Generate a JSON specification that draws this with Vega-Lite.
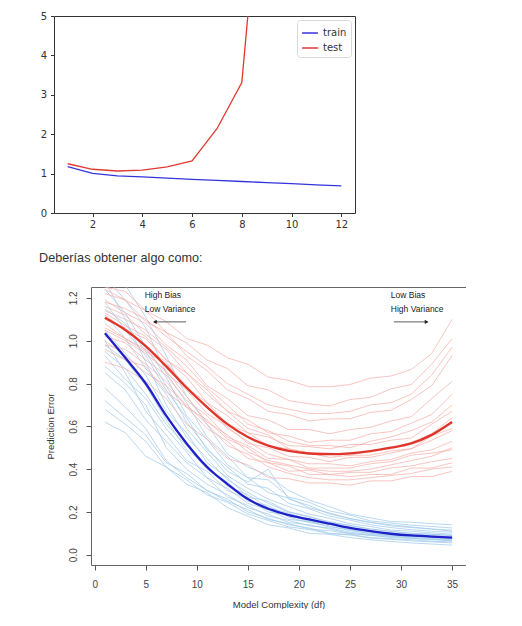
{
"$schema":"https://vega.github.io/schema/vega-lite/v6.json",
"padding":{"left":38,"top":10,"right":0,"bottom":0},
"background":"white",
"config":{"view":{"stroke":null},"font":"Liberation Sans"},
"datasets":{
"top":[
{"s":"train","x":1,"y":1.175},{"s":"train","x":2,"y":1.005},{"s":"train","x":3,"y":0.94},{"s":"train","x":4,"y":0.915},{"s":"train","x":5,"y":0.885},{"s":"train","x":6,"y":0.855},{"s":"train","x":7,"y":0.83},{"s":"train","x":8,"y":0.80},{"s":"train","x":9,"y":0.772},{"s":"train","x":10,"y":0.745},{"s":"train","x":11,"y":0.715},{"s":"train","x":12,"y":0.69},
{"s":"test","x":1,"y":1.25},{"s":"test","x":2,"y":1.11},{"s":"test","x":3,"y":1.066},{"s":"test","x":4,"y":1.09},{"s":"test","x":5,"y":1.17},{"s":"test","x":6,"y":1.32},{"s":"test","x":7,"y":2.14},{"s":"test","x":8,"y":3.31},{"s":"test","x":9,"y":10.3}
],
"curves":[
{"c":"b01","x":1,"y":0.62},{"c":"b01","x":3,"y":0.57},{"c":"b01","x":5,"y":0.46},{"c":"b01","x":7,"y":0.41},{"c":"b01","x":9,"y":0.33},{"c":"b01","x":11,"y":0.29},{"c":"b01","x":13,"y":0.22},{"c":"b01","x":15,"y":0.18},{"c":"b01","x":17,"y":0.14},{"c":"b01","x":19,"y":0.125},{"c":"b01","x":21,"y":0.10},{"c":"b01","x":23,"y":0.095},{"c":"b01","x":25,"y":0.08},{"c":"b01","x":27,"y":0.07},{"c":"b01","x":29,"y":0.062},{"c":"b01","x":31,"y":0.055},{"c":"b01","x":33,"y":0.05},{"c":"b01","x":35,"y":0.045},
{"c":"b02","x":1,"y":0.72},{"c":"b02","x":3,"y":0.64},{"c":"b02","x":5,"y":0.56},{"c":"b02","x":7,"y":0.43},{"c":"b02","x":9,"y":0.38},{"c":"b02","x":11,"y":0.30},{"c":"b02","x":13,"y":0.26},{"c":"b02","x":15,"y":0.20},{"c":"b02","x":17,"y":0.17},{"c":"b02","x":19,"y":0.14},{"c":"b02","x":21,"y":0.125},{"c":"b02","x":23,"y":0.10},{"c":"b02","x":25,"y":0.095},{"c":"b02","x":27,"y":0.08},{"c":"b02","x":29,"y":0.075},{"c":"b02","x":31,"y":0.07},{"c":"b02","x":33,"y":0.063},{"c":"b02","x":35,"y":0.06},
{"c":"b03","x":1,"y":0.85},{"c":"b03","x":3,"y":0.77},{"c":"b03","x":5,"y":0.63},{"c":"b03","x":7,"y":0.53},{"c":"b03","x":9,"y":0.43},{"c":"b03","x":11,"y":0.36},{"c":"b03","x":13,"y":0.27},{"c":"b03","x":15,"y":0.23},{"c":"b03","x":17,"y":0.18},{"c":"b03","x":19,"y":0.16},{"c":"b03","x":21,"y":0.135},{"c":"b03","x":23,"y":0.125},{"c":"b03","x":25,"y":0.105},{"c":"b03","x":27,"y":0.095},{"c":"b03","x":29,"y":0.088},{"c":"b03","x":31,"y":0.08},{"c":"b03","x":33,"y":0.076},{"c":"b03","x":35,"y":0.07},
{"c":"b04","x":1,"y":0.93},{"c":"b04","x":3,"y":0.82},{"c":"b04","x":5,"y":0.73},{"c":"b04","x":7,"y":0.59},{"c":"b04","x":9,"y":0.48},{"c":"b04","x":11,"y":0.36},{"c":"b04","x":13,"y":0.31},{"c":"b04","x":15,"y":0.24},{"c":"b04","x":17,"y":0.21},{"c":"b04","x":19,"y":0.165},{"c":"b04","x":21,"y":0.155},{"c":"b04","x":23,"y":0.13},{"c":"b04","x":25,"y":0.117},{"c":"b04","x":27,"y":0.10},{"c":"b04","x":29,"y":0.092},{"c":"b04","x":31,"y":0.085},{"c":"b04","x":33,"y":0.08},{"c":"b04","x":35,"y":0.076},
{"c":"b05","x":1,"y":0.98},{"c":"b05","x":3,"y":0.91},{"c":"b05","x":5,"y":0.79},{"c":"b05","x":7,"y":0.63},{"c":"b05","x":9,"y":0.49},{"c":"b05","x":11,"y":0.42},{"c":"b05","x":13,"y":0.32},{"c":"b05","x":15,"y":0.28},{"c":"b05","x":17,"y":0.22},{"c":"b05","x":19,"y":0.195},{"c":"b05","x":21,"y":0.16},{"c":"b05","x":23,"y":0.145},{"c":"b05","x":25,"y":0.123},{"c":"b05","x":27,"y":0.112},{"c":"b05","x":29,"y":0.10},{"c":"b05","x":31,"y":0.095},{"c":"b05","x":33,"y":0.09},{"c":"b05","x":35,"y":0.085},
{"c":"b06","x":1,"y":1.05},{"c":"b06","x":3,"y":0.94},{"c":"b06","x":5,"y":0.84},{"c":"b06","x":7,"y":0.67},{"c":"b06","x":9,"y":0.57},{"c":"b06","x":11,"y":0.43},{"c":"b06","x":13,"y":0.36},{"c":"b06","x":15,"y":0.27},{"c":"b06","x":17,"y":0.25},{"c":"b06","x":19,"y":0.20},{"c":"b06","x":21,"y":0.18},{"c":"b06","x":23,"y":0.15},{"c":"b06","x":25,"y":0.138},{"c":"b06","x":27,"y":0.12},{"c":"b06","x":29,"y":0.108},{"c":"b06","x":31,"y":0.10},{"c":"b06","x":33,"y":0.096},{"c":"b06","x":35,"y":0.09},
{"c":"b07","x":1,"y":1.12},{"c":"b07","x":3,"y":1.01},{"c":"b07","x":5,"y":0.87},{"c":"b07","x":7,"y":0.75},{"c":"b07","x":9,"y":0.59},{"c":"b07","x":11,"y":0.48},{"c":"b07","x":13,"y":0.37},{"c":"b07","x":15,"y":0.31},{"c":"b07","x":17,"y":0.26},{"c":"b07","x":19,"y":0.225},{"c":"b07","x":21,"y":0.19},{"c":"b07","x":23,"y":0.17},{"c":"b07","x":25,"y":0.145},{"c":"b07","x":27,"y":0.132},{"c":"b07","x":29,"y":0.115},{"c":"b07","x":31,"y":0.11},{"c":"b07","x":33,"y":0.102},{"c":"b07","x":35,"y":0.096},
{"c":"b08","x":1,"y":1.18},{"c":"b08","x":3,"y":1.05},{"c":"b08","x":5,"y":0.93},{"c":"b08","x":7,"y":0.77},{"c":"b08","x":9,"y":0.64},{"c":"b08","x":11,"y":0.49},{"c":"b08","x":13,"y":0.41},{"c":"b08","x":15,"y":0.33},{"c":"b08","x":17,"y":0.31},{"c":"b08","x":19,"y":0.24},{"c":"b08","x":21,"y":0.215},{"c":"b08","x":23,"y":0.18},{"c":"b08","x":25,"y":0.162},{"c":"b08","x":27,"y":0.14},{"c":"b08","x":29,"y":0.127},{"c":"b08","x":31,"y":0.117},{"c":"b08","x":33,"y":0.11},{"c":"b08","x":35,"y":0.105},
{"c":"b09","x":1,"y":1.24},{"c":"b09","x":3,"y":1.13},{"c":"b09","x":5,"y":0.97},{"c":"b09","x":7,"y":0.83},{"c":"b09","x":9,"y":0.65},{"c":"b09","x":11,"y":0.54},{"c":"b09","x":13,"y":0.42},{"c":"b09","x":15,"y":0.36},{"c":"b09","x":17,"y":0.29},{"c":"b09","x":19,"y":0.265},{"c":"b09","x":21,"y":0.22},{"c":"b09","x":23,"y":0.195},{"c":"b09","x":25,"y":0.168},{"c":"b09","x":27,"y":0.152},{"c":"b09","x":29,"y":0.135},{"c":"b09","x":31,"y":0.127},{"c":"b09","x":33,"y":0.12},{"c":"b09","x":35,"y":0.115},
{"c":"b10","x":1,"y":1.30},{"c":"b10","x":3,"y":1.19},{"c":"b10","x":5,"y":1.06},{"c":"b10","x":7,"y":0.85},{"c":"b10","x":9,"y":0.71},{"c":"b10","x":11,"y":0.55},{"c":"b10","x":13,"y":0.46},{"c":"b10","x":15,"y":0.36},{"c":"b10","x":17,"y":0.35},{"c":"b10","x":19,"y":0.27},{"c":"b10","x":21,"y":0.245},{"c":"b10","x":23,"y":0.205},{"c":"b10","x":25,"y":0.185},{"c":"b10","x":27,"y":0.158},{"c":"b10","x":29,"y":0.148},{"c":"b10","x":31,"y":0.138},{"c":"b10","x":33,"y":0.132},{"c":"b10","x":35,"y":0.125},
{"c":"b11","x":1,"y":1.36},{"c":"b11","x":3,"y":1.26},{"c":"b11","x":5,"y":1.11},{"c":"b11","x":7,"y":0.93},{"c":"b11","x":9,"y":0.74},{"c":"b11","x":11,"y":0.61},{"c":"b11","x":13,"y":0.47},{"c":"b11","x":15,"y":0.41},{"c":"b11","x":17,"y":0.37},{"c":"b11","x":19,"y":0.30},{"c":"b11","x":21,"y":0.255},{"c":"b11","x":23,"y":0.225},{"c":"b11","x":25,"y":0.19},{"c":"b11","x":27,"y":0.172},{"c":"b11","x":29,"y":0.155},{"c":"b11","x":31,"y":0.152},{"c":"b11","x":33,"y":0.145},{"c":"b11","x":35,"y":0.14},
{"c":"b12","x":1,"y":0.78},{"c":"b12","x":3,"y":0.69},{"c":"b12","x":5,"y":0.59},{"c":"b12","x":7,"y":0.44},{"c":"b12","x":9,"y":0.36},{"c":"b12","x":11,"y":0.30},{"c":"b12","x":13,"y":0.25},{"c":"b12","x":15,"y":0.21},{"c":"b12","x":17,"y":0.165},{"c":"b12","x":19,"y":0.145},{"c":"b12","x":21,"y":0.12},{"c":"b12","x":23,"y":0.112},{"c":"b12","x":25,"y":0.098},{"c":"b12","x":27,"y":0.092},{"c":"b12","x":29,"y":0.08},{"c":"b12","x":31,"y":0.076},{"c":"b12","x":33,"y":0.07},{"c":"b12","x":35,"y":0.065},
{"c":"b13","x":1,"y":1.00},{"c":"b13","x":3,"y":0.85},{"c":"b13","x":5,"y":0.67},{"c":"b13","x":7,"y":0.56},{"c":"b13","x":9,"y":0.44},{"c":"b13","x":11,"y":0.39},{"c":"b13","x":13,"y":0.30},{"c":"b13","x":15,"y":0.26},{"c":"b13","x":17,"y":0.20},{"c":"b13","x":19,"y":0.185},{"c":"b13","x":21,"y":0.155},{"c":"b13","x":23,"y":0.142},{"c":"b13","x":25,"y":0.118},{"c":"b13","x":27,"y":0.107},{"c":"b13","x":29,"y":0.094},{"c":"b13","x":31,"y":0.092},{"c":"b13","x":33,"y":0.085},{"c":"b13","x":35,"y":0.08},
{"c":"b14","x":1,"y":0.68},{"c":"b14","x":3,"y":0.61},{"c":"b14","x":5,"y":0.53},{"c":"b14","x":7,"y":0.41},{"c":"b14","x":9,"y":0.35},{"c":"b14","x":11,"y":0.28},{"c":"b14","x":13,"y":0.245},{"c":"b14","x":15,"y":0.19},{"c":"b14","x":17,"y":0.16},{"c":"b14","x":19,"y":0.13},{"c":"b14","x":21,"y":0.118},{"c":"b14","x":23,"y":0.098},{"c":"b14","x":25,"y":0.092},{"c":"b14","x":27,"y":0.078},{"c":"b14","x":29,"y":0.072},{"c":"b14","x":31,"y":0.065},{"c":"b14","x":33,"y":0.06},{"c":"b14","x":35,"y":0.055},
{"c":"b15","x":1,"y":1.28},{"c":"b15","x":3,"y":1.10},{"c":"b15","x":5,"y":0.90},{"c":"b15","x":7,"y":0.70},{"c":"b15","x":9,"y":0.55},{"c":"b15","x":11,"y":0.45},{"c":"b15","x":13,"y":0.35},{"c":"b15","x":15,"y":0.29},{"c":"b15","x":17,"y":0.24},{"c":"b15","x":19,"y":0.20},{"c":"b15","x":21,"y":0.175},{"c":"b15","x":23,"y":0.155},{"c":"b15","x":25,"y":0.135},{"c":"b15","x":27,"y":0.12},{"c":"b15","x":29,"y":0.11},{"c":"b15","x":31,"y":0.10},{"c":"b15","x":33,"y":0.095},{"c":"b15","x":35,"y":0.09},
{"c":"b16","x":1,"y":0.88},{"c":"b16","x":3,"y":0.80},{"c":"b16","x":5,"y":0.70},{"c":"b16","x":7,"y":0.50},{"c":"b16","x":9,"y":0.40},{"c":"b16","x":11,"y":0.33},{"c":"b16","x":13,"y":0.28},{"c":"b16","x":15,"y":0.22},{"c":"b16","x":17,"y":0.19},{"c":"b16","x":19,"y":0.15},{"c":"b16","x":21,"y":0.14},{"c":"b16","x":23,"y":0.12},{"c":"b16","x":25,"y":0.10},{"c":"b16","x":27,"y":0.09},{"c":"b16","x":29,"y":0.085},{"c":"b16","x":31,"y":0.078},{"c":"b16","x":33,"y":0.072},{"c":"b16","x":35,"y":0.068},
{"c":"b17","x":1,"y":1.15},{"c":"b17","x":3,"y":1.08},{"c":"b17","x":5,"y":0.95},{"c":"b17","x":7,"y":0.79},{"c":"b17","x":9,"y":0.62},{"c":"b17","x":11,"y":0.50},{"c":"b17","x":13,"y":0.39},{"c":"b17","x":15,"y":0.34},{"c":"b17","x":17,"y":0.40},{"c":"b17","x":19,"y":0.26},{"c":"b17","x":21,"y":0.23},{"c":"b17","x":23,"y":0.19},{"c":"b17","x":25,"y":0.17},{"c":"b17","x":27,"y":0.15},{"c":"b17","x":29,"y":0.14},{"c":"b17","x":31,"y":0.13},{"c":"b17","x":33,"y":0.12},{"c":"b17","x":35,"y":0.11},
{"c":"b18","x":1,"y":0.95},{"c":"b18","x":3,"y":0.87},{"c":"b18","x":5,"y":0.75},{"c":"b18","x":7,"y":0.61},{"c":"b18","x":9,"y":0.51},{"c":"b18","x":11,"y":0.40},{"c":"b18","x":13,"y":0.34},{"c":"b18","x":15,"y":0.25},{"c":"b18","x":17,"y":0.23},{"c":"b18","x":19,"y":0.175},{"c":"b18","x":21,"y":0.15},{"c":"b18","x":23,"y":0.135},{"c":"b18","x":25,"y":0.112},{"c":"b18","x":27,"y":0.10},{"c":"b18","x":29,"y":0.09},{"c":"b18","x":31,"y":0.086},{"c":"b18","x":33,"y":0.082},{"c":"b18","x":35,"y":0.078},
{"c":"r01","x":1,"y":0.90},{"c":"r01","x":3,"y":0.87},{"c":"r01","x":5,"y":0.81},{"c":"r01","x":7,"y":0.73},{"c":"r01","x":9,"y":0.61},{"c":"r01","x":11,"y":0.54},{"c":"r01","x":13,"y":0.45},{"c":"r01","x":15,"y":0.42},{"c":"r01","x":17,"y":0.36},{"c":"r01","x":19,"y":0.355},{"c":"r01","x":21,"y":0.335},{"c":"r01","x":23,"y":0.335},{"c":"r01","x":25,"y":0.325},{"c":"r01","x":27,"y":0.345},{"c":"r01","x":29,"y":0.345},{"c":"r01","x":31,"y":0.365},{"c":"r01","x":33,"y":0.365},{"c":"r01","x":35,"y":0.39},
{"c":"r02","x":1,"y":0.96},{"c":"r02","x":3,"y":0.91},{"c":"r02","x":5,"y":0.88},{"c":"r02","x":7,"y":0.76},{"c":"r02","x":9,"y":0.69},{"c":"r02","x":11,"y":0.59},{"c":"r02","x":13,"y":0.53},{"c":"r02","x":15,"y":0.45},{"c":"r02","x":17,"y":0.43},{"c":"r02","x":19,"y":0.39},{"c":"r02","x":21,"y":0.395},{"c":"r02","x":23,"y":0.375},{"c":"r02","x":25,"y":0.385},{"c":"r02","x":27,"y":0.385},{"c":"r02","x":29,"y":0.405},{"c":"r02","x":31,"y":0.415},{"c":"r02","x":33,"y":0.435},{"c":"r02","x":35,"y":0.45},
{"c":"r03","x":1,"y":1.02},{"c":"r03","x":3,"y":0.99},{"c":"r03","x":5,"y":0.91},{"c":"r03","x":7,"y":0.84},{"c":"r03","x":9,"y":0.72},{"c":"r03","x":11,"y":0.65},{"c":"r03","x":13,"y":0.55},{"c":"r03","x":15,"y":0.51},{"c":"r03","x":17,"y":0.45},{"c":"r03","x":19,"y":0.445},{"c":"r03","x":21,"y":0.425},{"c":"r03","x":23,"y":0.425},{"c":"r03","x":25,"y":0.415},{"c":"r03","x":27,"y":0.435},{"c":"r03","x":29,"y":0.445},{"c":"r03","x":31,"y":0.475},{"c":"r03","x":33,"y":0.49},{"c":"r03","x":35,"y":0.53},
{"c":"r04","x":1,"y":1.06},{"c":"r04","x":3,"y":1.01},{"c":"r04","x":5,"y":0.96},{"c":"r04","x":7,"y":0.85},{"c":"r04","x":9,"y":0.77},{"c":"r04","x":11,"y":0.66},{"c":"r04","x":13,"y":0.60},{"c":"r04","x":15,"y":0.52},{"c":"r04","x":17,"y":0.50},{"c":"r04","x":19,"y":0.46},{"c":"r04","x":21,"y":0.455},{"c":"r04","x":23,"y":0.435},{"c":"r04","x":25,"y":0.455},{"c":"r04","x":27,"y":0.455},{"c":"r04","x":29,"y":0.475},{"c":"r04","x":31,"y":0.495},{"c":"r04","x":33,"y":0.535},{"c":"r04","x":35,"y":0.58},
{"c":"r05","x":1,"y":1.10},{"c":"r05","x":3,"y":1.06},{"c":"r05","x":5,"y":0.97},{"c":"r05","x":7,"y":0.90},{"c":"r05","x":9,"y":0.78},{"c":"r05","x":11,"y":0.71},{"c":"r05","x":13,"y":0.61},{"c":"r05","x":15,"y":0.57},{"c":"r05","x":17,"y":0.51},{"c":"r05","x":19,"y":0.495},{"c":"r05","x":21,"y":0.475},{"c":"r05","x":23,"y":0.475},{"c":"r05","x":25,"y":0.465},{"c":"r05","x":27,"y":0.485},{"c":"r05","x":29,"y":0.495},{"c":"r05","x":31,"y":0.525},{"c":"r05","x":33,"y":0.565},{"c":"r05","x":35,"y":0.64},
{"c":"r06","x":1,"y":1.13},{"c":"r06","x":3,"y":1.07},{"c":"r06","x":5,"y":1.02},{"c":"r06","x":7,"y":0.91},{"c":"r06","x":9,"y":0.83},{"c":"r06","x":11,"y":0.71},{"c":"r06","x":13,"y":0.65},{"c":"r06","x":15,"y":0.57},{"c":"r06","x":17,"y":0.55},{"c":"r06","x":19,"y":0.51},{"c":"r06","x":21,"y":0.505},{"c":"r06","x":23,"y":0.495},{"c":"r06","x":25,"y":0.515},{"c":"r06","x":27,"y":0.515},{"c":"r06","x":29,"y":0.535},{"c":"r06","x":31,"y":0.545},{"c":"r06","x":33,"y":0.61},{"c":"r06","x":35,"y":0.67},
{"c":"r07","x":1,"y":1.16},{"c":"r07","x":3,"y":1.12},{"c":"r07","x":5,"y":1.03},{"c":"r07","x":7,"y":0.96},{"c":"r07","x":9,"y":0.85},{"c":"r07","x":11,"y":0.77},{"c":"r07","x":13,"y":0.67},{"c":"r07","x":15,"y":0.63},{"c":"r07","x":17,"y":0.57},{"c":"r07","x":19,"y":0.555},{"c":"r07","x":21,"y":0.525},{"c":"r07","x":23,"y":0.535},{"c":"r07","x":25,"y":0.535},{"c":"r07","x":27,"y":0.565},{"c":"r07","x":29,"y":0.575},{"c":"r07","x":31,"y":0.615},{"c":"r07","x":33,"y":0.655},{"c":"r07","x":35,"y":0.75},
{"c":"r08","x":1,"y":1.19},{"c":"r08","x":3,"y":1.13},{"c":"r08","x":5,"y":1.08},{"c":"r08","x":7,"y":0.98},{"c":"r08","x":9,"y":0.91},{"c":"r08","x":11,"y":0.79},{"c":"r08","x":13,"y":0.73},{"c":"r08","x":15,"y":0.65},{"c":"r08","x":17,"y":0.63},{"c":"r08","x":19,"y":0.585},{"c":"r08","x":21,"y":0.585},{"c":"r08","x":23,"y":0.565},{"c":"r08","x":25,"y":0.585},{"c":"r08","x":27,"y":0.595},{"c":"r08","x":29,"y":0.625},{"c":"r08","x":31,"y":0.645},{"c":"r08","x":33,"y":0.73},{"c":"r08","x":35,"y":0.81},
{"c":"r09","x":1,"y":1.22},{"c":"r09","x":3,"y":1.19},{"c":"r09","x":5,"y":1.09},{"c":"r09","x":7,"y":1.04},{"c":"r09","x":9,"y":0.93},{"c":"r09","x":11,"y":0.86},{"c":"r09","x":13,"y":0.77},{"c":"r09","x":15,"y":0.73},{"c":"r09","x":17,"y":0.67},{"c":"r09","x":19,"y":0.655},{"c":"r09","x":21,"y":0.625},{"c":"r09","x":23,"y":0.635},{"c":"r09","x":25,"y":0.635},{"c":"r09","x":27,"y":0.665},{"c":"r09","x":29,"y":0.675},{"c":"r09","x":31,"y":0.725},{"c":"r09","x":33,"y":0.79},{"c":"r09","x":35,"y":0.93},
{"c":"r10","x":1,"y":1.24},{"c":"r10","x":3,"y":1.19},{"c":"r10","x":5,"y":1.14},{"c":"r10","x":7,"y":1.04},{"c":"r10","x":9,"y":0.99},{"c":"r10","x":11,"y":0.91},{"c":"r10","x":13,"y":0.87},{"c":"r10","x":15,"y":0.79},{"c":"r10","x":17,"y":0.77},{"c":"r10","x":19,"y":0.72},{"c":"r10","x":21,"y":0.705},{"c":"r10","x":23,"y":0.695},{"c":"r10","x":25,"y":0.725},{"c":"r10","x":27,"y":0.735},{"c":"r10","x":29,"y":0.775},{"c":"r10","x":31,"y":0.795},{"c":"r10","x":33,"y":0.89},{"c":"r10","x":35,"y":1.01},
{"c":"r11","x":1,"y":1.25},{"c":"r11","x":3,"y":1.23},{"c":"r11","x":5,"y":1.14},{"c":"r11","x":7,"y":1.09},{"c":"r11","x":9,"y":1.01},{"c":"r11","x":11,"y":0.98},{"c":"r11","x":13,"y":0.92},{"c":"r11","x":15,"y":0.89},{"c":"r11","x":17,"y":0.83},{"c":"r11","x":19,"y":0.815},{"c":"r11","x":21,"y":0.785},{"c":"r11","x":23,"y":0.785},{"c":"r11","x":25,"y":0.795},{"c":"r11","x":27,"y":0.825},{"c":"r11","x":29,"y":0.835},{"c":"r11","x":31,"y":0.865},{"c":"r11","x":33,"y":0.94},{"c":"r11","x":35,"y":1.10},
{"c":"r12","x":1,"y":1.08},{"c":"r12","x":3,"y":1.01},{"c":"r12","x":5,"y":0.95},{"c":"r12","x":7,"y":0.89},{"c":"r12","x":9,"y":0.79},{"c":"r12","x":11,"y":0.69},{"c":"r12","x":13,"y":0.59},{"c":"r12","x":15,"y":0.53},{"c":"r12","x":17,"y":0.47},{"c":"r12","x":19,"y":0.445},{"c":"r12","x":21,"y":0.405},{"c":"r12","x":23,"y":0.405},{"c":"r12","x":25,"y":0.405},{"c":"r12","x":27,"y":0.425},{"c":"r12","x":29,"y":0.435},{"c":"r12","x":31,"y":0.465},{"c":"r12","x":33,"y":0.475},{"c":"r12","x":35,"y":0.49},
{"c":"r13","x":1,"y":1.12},{"c":"r13","x":3,"y":1.05},{"c":"r13","x":5,"y":1.01},{"c":"r13","x":7,"y":0.91},{"c":"r13","x":9,"y":0.85},{"c":"r13","x":11,"y":0.75},{"c":"r13","x":13,"y":0.67},{"c":"r13","x":15,"y":0.59},{"c":"r13","x":17,"y":0.56},{"c":"r13","x":19,"y":0.495},{"c":"r13","x":21,"y":0.475},{"c":"r13","x":23,"y":0.455},{"c":"r13","x":25,"y":0.465},{"c":"r13","x":27,"y":0.465},{"c":"r13","x":29,"y":0.485},{"c":"r13","x":31,"y":0.495},{"c":"r13","x":33,"y":0.555},{"c":"r13","x":35,"y":0.59},
{"c":"r14","x":1,"y":0.98},{"c":"r14","x":3,"y":0.96},{"c":"r14","x":5,"y":0.89},{"c":"r14","x":7,"y":0.81},{"c":"r14","x":9,"y":0.69},{"c":"r14","x":11,"y":0.63},{"c":"r14","x":13,"y":0.54},{"c":"r14","x":15,"y":0.50},{"c":"r14","x":17,"y":0.43},{"c":"r14","x":19,"y":0.415},{"c":"r14","x":21,"y":0.375},{"c":"r14","x":23,"y":0.375},{"c":"r14","x":25,"y":0.365},{"c":"r14","x":27,"y":0.375},{"c":"r14","x":29,"y":0.375},{"c":"r14","x":31,"y":0.405},{"c":"r14","x":33,"y":0.405},{"c":"r14","x":35,"y":0.43},
{"c":"r15","x":1,"y":1.05},{"c":"r15","x":3,"y":1.00},{"c":"r15","x":5,"y":0.94},{"c":"r15","x":7,"y":0.86},{"c":"r15","x":9,"y":0.74},{"c":"r15","x":11,"y":0.62},{"c":"r15","x":13,"y":0.56},{"c":"r15","x":15,"y":0.48},{"c":"r15","x":17,"y":0.44},{"c":"r15","x":19,"y":0.42},{"c":"r15","x":21,"y":0.40},{"c":"r15","x":23,"y":0.39},{"c":"r15","x":25,"y":0.39},{"c":"r15","x":27,"y":0.40},{"c":"r15","x":29,"y":0.42},{"c":"r15","x":31,"y":0.44},{"c":"r15","x":33,"y":0.46},{"c":"r15","x":35,"y":0.50},
{"c":"r16","x":1,"y":1.14},{"c":"r16","x":3,"y":1.10},{"c":"r16","x":5,"y":1.05},{"c":"r16","x":7,"y":0.97},{"c":"r16","x":9,"y":0.88},{"c":"r16","x":11,"y":0.78},{"c":"r16","x":13,"y":0.70},{"c":"r16","x":15,"y":0.61},{"c":"r16","x":17,"y":0.58},{"c":"r16","x":19,"y":0.53},{"c":"r16","x":21,"y":0.51},{"c":"r16","x":23,"y":0.51},{"c":"r16","x":25,"y":0.50},{"c":"r16","x":27,"y":0.53},{"c":"r16","x":29,"y":0.55},{"c":"r16","x":31,"y":0.58},{"c":"r16","x":33,"y":0.62},{"c":"r16","x":35,"y":0.70},
{"c":"r17","x":1,"y":1.00},{"c":"r17","x":3,"y":0.93},{"c":"r17","x":5,"y":0.85},{"c":"r17","x":7,"y":0.79},{"c":"r17","x":9,"y":0.70},{"c":"r17","x":11,"y":0.61},{"c":"r17","x":13,"y":0.51},{"c":"r17","x":15,"y":0.47},{"c":"r17","x":17,"y":0.41},{"c":"r17","x":19,"y":0.38},{"c":"r17","x":21,"y":0.36},{"c":"r17","x":23,"y":0.35},{"c":"r17","x":25,"y":0.35},{"c":"r17","x":27,"y":0.36},{"c":"r17","x":29,"y":0.37},{"c":"r17","x":31,"y":0.38},{"c":"r17","x":33,"y":0.40},{"c":"r17","x":35,"y":0.41},
{"c":"r18","x":1,"y":1.18},{"c":"r18","x":3,"y":1.15},{"c":"r18","x":5,"y":1.10},{"c":"r18","x":7,"y":1.02},{"c":"r18","x":9,"y":0.95},{"c":"r18","x":11,"y":0.88},{"c":"r18","x":13,"y":0.80},{"c":"r18","x":15,"y":0.75},{"c":"r18","x":17,"y":0.70},{"c":"r18","x":19,"y":0.68},{"c":"r18","x":21,"y":0.66},{"c":"r18","x":23,"y":0.66},{"c":"r18","x":25,"y":0.67},{"c":"r18","x":27,"y":0.70},{"c":"r18","x":29,"y":0.71},{"c":"r18","x":31,"y":0.75},{"c":"r18","x":33,"y":0.84},{"c":"r18","x":35,"y":0.97}
],
"means":[
{"c":"train","x":1,"y":1.035},{"c":"train","x":3,"y":0.92},{"c":"train","x":5,"y":0.80},{"c":"train","x":7,"y":0.65},{"c":"train","x":9,"y":0.52},{"c":"train","x":11,"y":0.41},{"c":"train","x":13,"y":0.33},{"c":"train","x":15,"y":0.26},{"c":"train","x":17,"y":0.215},{"c":"train","x":19,"y":0.185},{"c":"train","x":21,"y":0.165},{"c":"train","x":23,"y":0.145},{"c":"train","x":25,"y":0.125},{"c":"train","x":27,"y":0.11},{"c":"train","x":29,"y":0.098},{"c":"train","x":31,"y":0.09},{"c":"train","x":33,"y":0.085},{"c":"train","x":35,"y":0.08},
{"c":"test","x":1,"y":1.107},{"c":"test","x":3,"y":1.05},{"c":"test","x":5,"y":0.975},{"c":"test","x":7,"y":0.88},{"c":"test","x":9,"y":0.78},{"c":"test","x":11,"y":0.69},{"c":"test","x":13,"y":0.61},{"c":"test","x":15,"y":0.55},{"c":"test","x":17,"y":0.51},{"c":"test","x":19,"y":0.485},{"c":"test","x":21,"y":0.473},{"c":"test","x":23,"y":0.47},{"c":"test","x":25,"y":0.474},{"c":"test","x":27,"y":0.484},{"c":"test","x":29,"y":0.50},{"c":"test","x":31,"y":0.52},{"c":"test","x":33,"y":0.56},{"c":"test","x":35,"y":0.62}
],
"notes":[
{"t":"High Bias","x":4.9,"y":1.214},{"t":"Low Variance","x":4.9,"y":1.149},{"t":"Low Bias","x":29.0,"y":1.214},{"t":"High Variance","x":29.0,"y":1.149}
],
"arrows":[
{"x":5.8,"x2":8.95,"y":1.088,"dir":"left","hx":5.9},{"x":29.3,"x2":32.6,"y":1.088,"dir":"right","hx":32.5}
]
},
"vconcat":[
{
"width":301,"height":197,
"data":{"name":"top"},
"view":{"stroke":"#333","strokeWidth":1},
"mark":{"type":"line","clip":true,"strokeWidth":1.3},
"encoding":{
"x":{"field":"x","type":"quantitative","scale":{"domain":[0.45,12.55],"nice":false,"zero":false},
"axis":{"values":[2,4,6,8,10,12],"grid":false,"domain":false,"tickSize":3.5,"tickColor":"#333","labelColor":"#333","labelFont":"DejaVu Sans","labelFontSize":10,"labelPadding":3,"title":null}},
"y":{"field":"y","type":"quantitative","scale":{"domain":[0,5],"nice":false,"zero":false},
"axis":{"values":[0,1,2,3,4,5],"grid":false,"domain":false,"tickSize":3.5,"tickColor":"#333","labelColor":"#333","labelFont":"DejaVu Sans","labelFontSize":10,"labelPadding":4,"minExtent":15,"title":null}},
"color":{"field":"s","type":"nominal","scale":{"domain":["train","test"],"range":["#3434dd","#e03a32"]},
"legend":{"orient":"top-right","offset":4,"title":null,"symbolType":"stroke","symbolStrokeWidth":1.5,"symbolSize":250,"labelFont":"DejaVu Sans","labelFontSize":10,"labelColor":"#333","strokeColor":"#d8d8d8","fillColor":"white","padding":4,"cornerRadius":3,"rowPadding":1}}
}
},
{
"width":412,"height":278,
"title":{"text":"Deberías obtener algo como:","anchor":"start","frame":"group","dx":-15,"offset":22,"font":"Liberation Sans","fontSize":12.7,"fontWeight":"normal","color":"#333"},
"resolve":{"axis":{"x":"independent","y":"independent"}},
"layer":[
{"data":{"name":"curves"},"transform":[{"filter":"indexof(datum.c,'b')==0"}],
"mark":{"type":"line","clip":true,"color":"#9ec8ea","strokeWidth":0.9,"opacity":0.8},
"encoding":{
"x":{"field":"x","type":"quantitative","scale":{"domain":[-0.36,36.36],"nice":false,"zero":false,"range":[37,412]},
"axis":{"values":[0,5,10,15,20,25,30,35],"grid":false,"domain":true,"domainColor":"#666","tickSize":5,"tickColor":"#555","labelColor":"#444","labelFont":"Liberation Sans","labelFontSize":10,"labelPadding":9,"title":"Model Complexity (df)","titleX":224.5,"titleAlign":"center","titleFont":"Liberation Sans","titleFontSize":9.5,"titleFontWeight":"normal","titleColor":"#333","titlePadding":10}},
"y":{"field":"y","type":"quantitative","scale":{"domain":[-0.048,1.251],"nice":false,"zero":false},
"axis":{"values":[0,0.2,0.4,0.6,0.8,1.0,1.2],"format":".1f","offset":-37,"labelAngle":-90,"labelAlign":"center","labelBaseline":"bottom","grid":false,"domain":true,"domainColor":"#666","tickSize":5,"tickColor":"#555","labelColor":"#444","labelFont":"Liberation Sans","labelFontSize":10,"labelPadding":8,"title":"Prediction Error","titleFont":"Liberation Sans","titleFontSize":9.5,"titleFontWeight":"normal","titleColor":"#333","titlePadding":13}},
"detail":{"field":"c","type":"nominal"}}},
{"data":{"name":"curves"},"transform":[{"filter":"indexof(datum.c,'r')==0"}],
"mark":{"type":"line","clip":true,"color":"#f5a9a3","strokeWidth":0.9,"opacity":0.75},
"encoding":{
"x":{"field":"x","type":"quantitative","axis":{"orient":"top","domain":true,"domainColor":"#666","ticks":false,"labels":false,"grid":false,"title":null}},
"y":{"field":"y","type":"quantitative","axis":{"orient":"right","domain":true,"domainColor":"#666","ticks":false,"labels":false,"grid":false,"title":null}},
"detail":{"field":"c","type":"nominal"}}},
{"data":{"name":"means"},
"mark":{"type":"line","clip":true,"strokeWidth":2.3,"interpolate":"monotone"},
"encoding":{"x":{"field":"x","type":"quantitative","axis":null},"y":{"field":"y","type":"quantitative","axis":null},
"color":{"field":"c","type":"nominal","scale":{"domain":["train","test"],"range":["#2020c8","#e0352a"]},"legend":null}}},
{"data":{"name":"notes"},
"mark":{"type":"text","align":"left","baseline":"middle","font":"Liberation Sans","fontSize":8.5,"color":"#222"},
"encoding":{"x":{"field":"x","type":"quantitative","axis":null},"y":{"field":"y","type":"quantitative","axis":null},"text":{"field":"t"}}},
{"data":{"name":"arrows"},
"mark":{"type":"rule","color":"#333","strokeWidth":0.8},
"encoding":{"x":{"field":"x","type":"quantitative","axis":null},"x2":{"field":"x2"},"y":{"field":"y","type":"quantitative","axis":null}}},
{"data":{"name":"arrows"},
"mark":{"type":"point","filled":true,"color":"#222","size":18,"opacity":1},
"encoding":{"x":{"field":"hx","type":"quantitative","axis":null},"y":{"field":"y","type":"quantitative","axis":null},
"shape":{"field":"dir","type":"nominal","scale":{"domain":["left","right"],"range":["triangle-left","triangle-right"]},"legend":null}}}
]
}
],
"spacing":22,
"resolve":{"scale":{"color":"independent"}}
}
